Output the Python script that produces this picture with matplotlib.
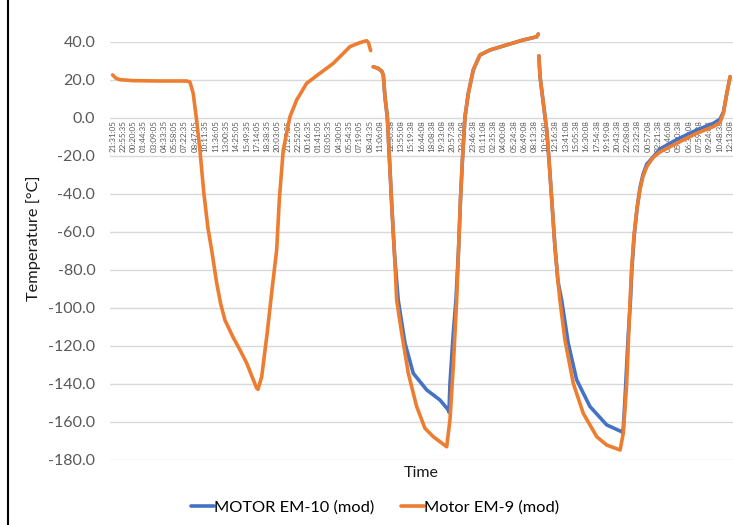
import numpy as np
import matplotlib
matplotlib.use('Agg')
import matplotlib.pyplot as plt
from matplotlib.lines import Line2D
from matplotlib.ticker import FuncFormatter

plt.rcParams['font.family'] = 'Lato'

nan = np.nan

# category labels shown on the time axis (every n-th sample)
time_labels = [
    '21:31:05', '22:55:35', '00:20:05', '01:44:35', '03:09:05', '04:33:35',
    '05:58:05', '07:22:35', '08:47:05', '10:11:35', '11:36:05', '13:00:35',
    '14:25:05', '15:49:35', '17:14:05', '18:38:35', '20:03:05', '21:27:35',
    '22:52:05', '00:16:35', '01:41:05', '03:05:35', '04:30:05', '05:54:35',
    '07:19:05', '08:43:35', '11:06:08', '12:30:38', '13:55:08', '15:19:38',
    '16:44:08', '18:08:38', '19:33:08', '20:57:38', '22:22:08', '23:46:38',
    '01:11:08', '02:35:38', '04:00:08', '05:24:38', '06:49:08', '08:13:38',
    '10:52:08', '12:16:38', '13:41:08', '15:05:38', '16:30:08', '17:54:38',
    '19:19:08', '20:43:38', '22:08:08', '23:32:38', '00:57:08', '02:21:38',
    '03:46:08', '05:10:38', '06:35:08', '07:59:38', '09:24:08', '10:48:38',
    '12:13:08',
]

# Motor EM-9 (mod): position along the axis (in label steps) and temperature [°C]
em9_pos = [
    0.00, 0.32, 0.71, 2.00, 4.60, 7.19, 7.51, 7.83, 8.16, 8.48, 8.87, 9.26,
    9.62, 10.11, 10.50, 10.91, 11.69, 12.40, 13.02, 13.99, 14.12, 14.48, 15.02,
    15.45, 15.94, 16.21, 16.58, 17.23, 17.88, 18.85, 20.15, 21.44, 22.09, 23.06,
    24.03, 24.68, 24.86, 25.07, 25.2,
    25.33, 25.78, 26.14, 26.30, 26.46, 26.69, 26.90, 27.14, 27.39, 27.60, 28.09,
    28.73, 29.54, 30.35, 31.16, 32.46, 32.78, 33.10, 33.43, 33.61, 33.80, 33.99,
    34.24, 34.56, 35.04, 35.69, 36.66, 38.29, 39.90, 41.21, 41.36, 41.39,
    41.42, 41.53, 41.85, 42.18, 42.40, 42.69, 42.98, 43.27, 43.46, 43.95, 44.76,
    45.73, 47.04, 48.01, 49.31, 49.62, 49.95, 50.28, 50.42, 50.66, 50.95, 51.24,
    51.53, 51.90, 52.51, 53.19, 54.81, 56.75, 58.37, 59.02, 59.35, 59.68, 60.00,
]
em9_temp = [
    22.5, 20.8, 20.0, 19.5, 19.3, 19.3, 18.8, 12.8, -1.2, -17, -40, -58,
    -69.6, -87, -98, -106.5, -115.4, -122.5, -129.1, -142.3, -143.0, -136.5, -113.3,
    -92.3, -69.6, -42, -17, 0.5, 9.3, 18.1, 23.4, 28.6, 32.1, 37.4,
    39.5, 40.5, 39.5, 35.3, nan,
    26.8, 26.0, 24.5, 22.5, 11.0, 0.5, -22, -48, -72, -96, -113.5,
    -134.5, -152, -163.5, -167.9, -173.2, -159, -131, -96, -69.6, -43, -22,
    0.5, 12.8, 25.1, 33.0, 35.6, 38.3, 40.9, 42.6, 44.0, nan,
    32.5, 21.6, 7.6, -6.5, -22, -45, -68, -86, -96, -117, -139.8,
    -155.6, -167.9, -172.3, -174.9, -166, -139.8, -96, -80, -62, -48, -38,
    -31, -25.8, -21, -18, -13.5, -8.2, -4.7, -2.5, 2.3, 12.8, 21.6,
]

# MOTOR EM-10 (mod)
em10_pos = [
    25.33, 25.78, 26.14, 26.30, 26.46, 26.69, 26.90, 27.14, 27.39, 27.75, 28.41,
    29.21, 30.52, 31.81, 32.61, 32.68, 32.78, 33.10, 33.36, 33.61, 33.80, 33.99,
    34.24, 34.56, 35.04, 35.69, 36.66, 38.29, 39.90, 41.21, 41.36, 41.39,
    41.42, 41.53, 41.85, 42.18, 42.40, 42.69, 42.98, 43.27, 43.63, 44.27, 45.09,
    46.38, 48.01, 49.47, 49.59, 49.78, 50.11, 50.32, 50.45, 50.68, 50.97, 51.24,
    51.53, 51.90, 53.19, 54.81, 56.75, 58.37, 59.02, 59.35, 59.68, 60.00,
]
em10_temp = [
    26.8, 26.0, 24.5, 22.5, 11.0, 0.5, -22, -48, -72, -96, -118.7,
    -134.5, -143.3, -148.6, -153.8, -155, -139.8, -113.5, -96, -69.6, -43, -22,
    0.5, 12.8, 25.1, 33.0, 35.6, 38.3, 40.9, 42.6, 44.0, nan,
    32.5, 21.6, 7.6, -6.5, -22, -45, -68, -86, -96, -118.7, -138,
    -152, -161.7, -165.3, -166, -148.6, -113.5, -96, -80, -62, -47, -37,
    -30, -24.5, -16.5, -11.5, -6.5, -3.0, -0.8, 3.0, 12.8, 21.6,
]

blue = '#4472C4'
orange = '#ED7D31'

fig = plt.figure(figsize=(7.33, 5.25), dpi=100)
ax = fig.add_axes([0.150, 0.1244, 0.85, 0.7962])

ax.plot(em10_pos, em10_temp, color=blue, lw=2.6, solid_joinstyle='round',
        solid_capstyle='round', clip_on=False, label='MOTOR EM-10 (mod)')
ax.plot(em9_pos, em9_temp, color=orange, lw=2.6, solid_joinstyle='round',
        solid_capstyle='round', clip_on=False, label='Motor EM-9 (mod)')

ax.set_ylim(-180, 40)
ax.set_xlim(-0.26, 60.28)
ax.set_yticks(range(-180, 41, 20))
ax.yaxis.set_major_formatter(FuncFormatter(lambda v, p: f'{v:.1f}'))
ax.grid(axis='y', color='#d9d9d9', lw=1)
ax.set_axisbelow(True)

for s in ['top', 'right', 'left']:
    ax.spines[s].set_visible(False)
ax.spines['bottom'].set_position(('data', 0))
ax.spines['bottom'].set_color('none')

ax.set_xticks(range(len(time_labels)))
ax.set_xticklabels(time_labels, rotation=90)
ax.tick_params(axis='x', length=0, pad=1.5, labelsize=5.8, labelcolor='#595959')
ax.tick_params(axis='y', length=0, pad=10.5, labelsize=11.5, labelcolor='#595959')

ax.set_ylabel('Temperature [°C]', fontsize=11.8, color='#1a1a1a')
ax.yaxis.set_label_coords(-0.11, 0.53)
ax.text(0.5, -0.032, 'Time', transform=ax.transAxes, ha='center', va='center',
        fontsize=11.5, color='#1a1a1a')

fig.legend(loc='center', bbox_to_anchor=(375 / 733, 0.034), ncol=2, frameon=False,
           fontsize=11.8, handlelength=1.4, handletextpad=0.0, columnspacing=1.6)

fig.add_artist(Line2D([8 / 733, 8 / 733], [0, 1], transform=fig.transFigure,
                      color='black', lw=1.5))

fig.savefig('out.png', dpi=100)
